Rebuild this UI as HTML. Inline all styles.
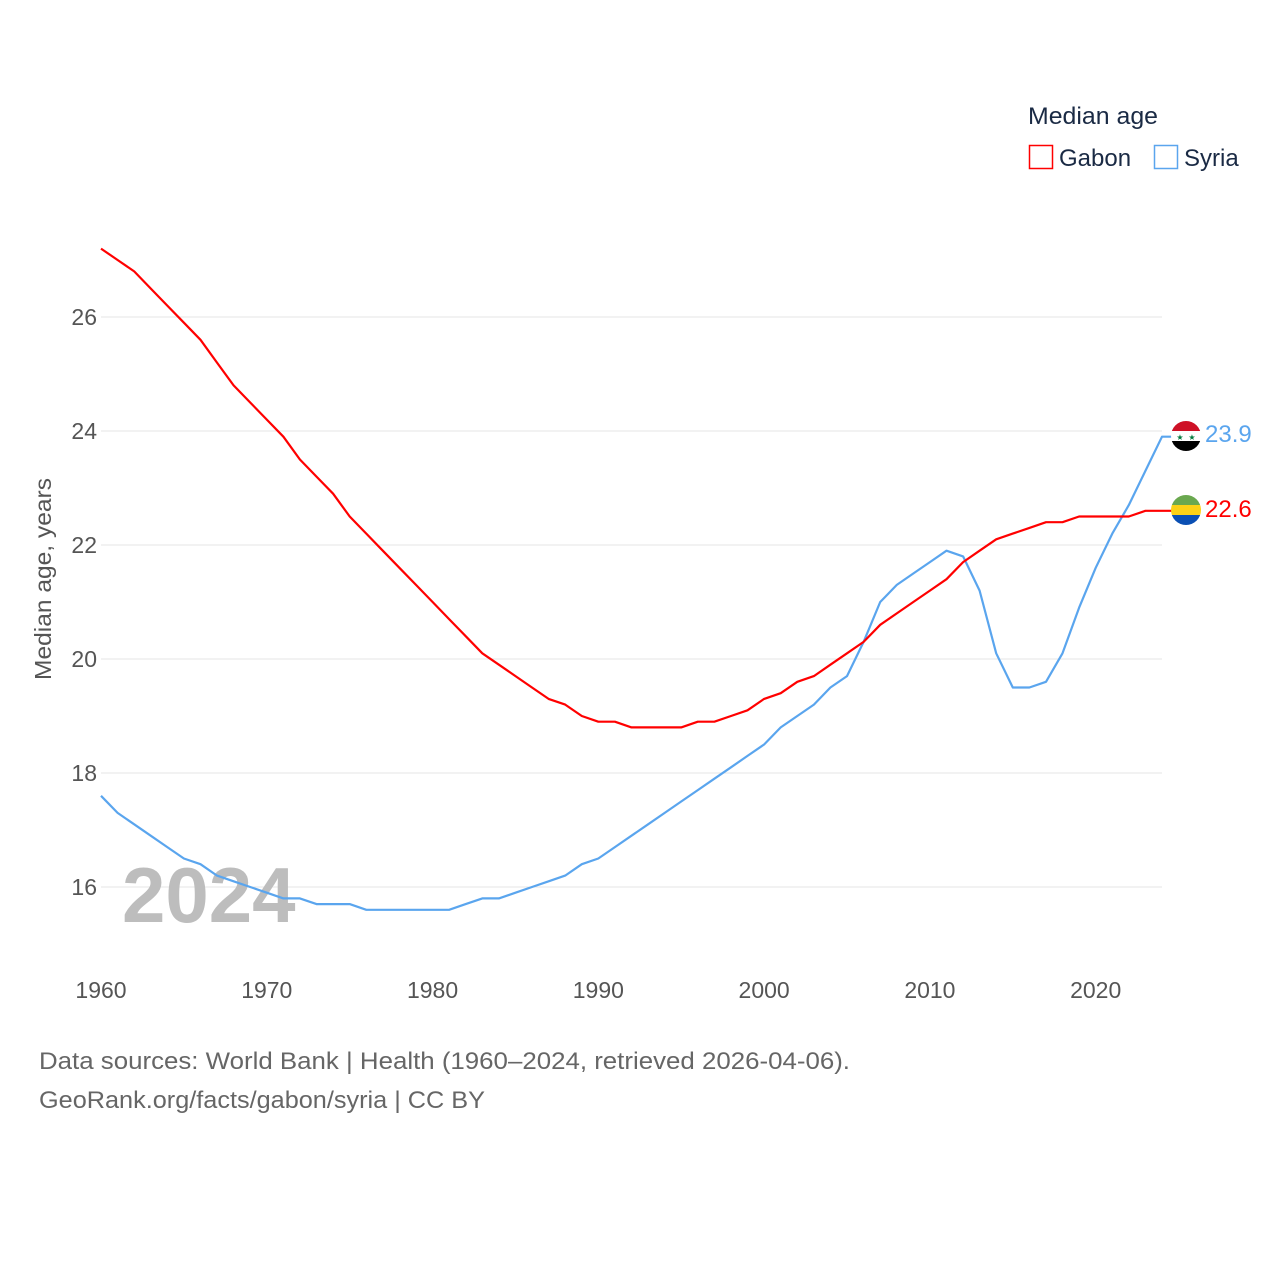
<!DOCTYPE html>
<html><head><meta charset="utf-8">
<style>
body{margin:0;background:#fff;font-family:"Liberation Sans",sans-serif;}
svg text{font-family:"Liberation Sans",sans-serif;}
</style></head>
<body>
<svg id="chart" width="1280" height="1280" viewBox="0 0 1280 1280" xmlns="http://www.w3.org/2000/svg">
<rect width="1280" height="1280" fill="#fff"/>
<g id="grid"></g>
<g id="yticks"></g>
<g id="xticks"></g>
<text x="122" y="922" font-size="78" font-weight="bold" fill="#bdbdbd">2024</text>
<g id="lines"></g>
<text transform="translate(51,579) rotate(-90)" text-anchor="middle" font-size="23" fill="#555" textLength="202" lengthAdjust="spacingAndGlyphs">Median age, years</text>
<text x="1028" y="124" font-size="24" fill="#1a2a44" textLength="130" lengthAdjust="spacingAndGlyphs">Median age</text>
<rect x="1029.5" y="145.5" width="23" height="23" fill="none" stroke="#f00" stroke-width="1.5"/>
<text x="1059" y="166" font-size="24" fill="#1a2a44">Gabon</text>
<rect x="1154.5" y="145.5" width="23" height="23" fill="none" stroke="#5aa5ee" stroke-width="1.5"/>
<text x="1184" y="166" font-size="24" fill="#1a2a44">Syria</text>
<defs>
<clipPath id="c1"><circle cx="1186" cy="436" r="15"/></clipPath>
<clipPath id="c2"><circle cx="1186" cy="510" r="15"/></clipPath>
</defs>
<g clip-path="url(#c1)">
<rect x="1171" y="421" width="30" height="10" fill="#ce1126"/>
<rect x="1171" y="431" width="30" height="10" fill="#fff"/>
<rect x="1171" y="441" width="30" height="10" fill="#000"/>
<text x="1180" y="440" font-size="8" fill="#007a3d" text-anchor="middle">★</text>
<text x="1192" y="440" font-size="8" fill="#007a3d" text-anchor="middle">★</text>
</g>
<g clip-path="url(#c2)">
<rect x="1171" y="495" width="30" height="10" fill="#6aa84f"/>
<rect x="1171" y="505" width="30" height="10" fill="#fcd116"/>
<rect x="1171" y="515" width="30" height="10" fill="#0a4fb3"/>
</g>
<text x="1205" y="442" font-size="24" fill="#5aa5ee">23.9</text>
<text x="1205" y="517" font-size="24" fill="#f00">22.6</text>
<text x="39" y="1069" font-size="24" fill="#666" textLength="811" lengthAdjust="spacingAndGlyphs">Data sources: World Bank | Health (1960–2024, retrieved 2026-04-06).</text>
<text x="39" y="1108" font-size="24" fill="#666" textLength="446" lengthAdjust="spacingAndGlyphs">GeoRank.org/facts/gabon/syria | CC BY</text>
</svg>
<script>
const years = Array.from({length:65},(_,i)=>1960+i);
const gabon = [27.2,27.0,26.8,26.5,26.2,25.9,25.6,25.2,24.8,24.5,24.2,23.9,23.5,23.2,22.9,22.5,22.2,21.9,21.6,21.3,21.0,20.7,20.4,20.1,19.9,19.7,19.5,19.3,19.2,19.0,18.9,18.9,18.8,18.8,18.8,18.8,18.9,18.9,19.0,19.1,19.3,19.4,19.6,19.7,19.9,20.1,20.3,20.6,20.8,21.0,21.2,21.4,21.7,21.9,22.1,22.2,22.3,22.4,22.4,22.5,22.5,22.5,22.5,22.6,22.6];
const syria = [17.6,17.3,17.1,16.9,16.7,16.5,16.4,16.2,16.1,16.0,15.9,15.8,15.8,15.7,15.7,15.7,15.6,15.6,15.6,15.6,15.6,15.6,15.7,15.8,15.8,15.9,16.0,16.1,16.2,16.4,16.5,16.7,16.9,17.1,17.3,17.5,17.7,17.9,18.1,18.3,18.5,18.8,19.0,19.2,19.5,19.7,20.3,21.0,21.3,21.5,21.7,21.9,21.8,21.2,20.1,19.5,19.5,19.6,20.1,20.9,21.6,22.2,22.7,23.3,23.9];
const yTicks = [16,18,20,22,24,26];
const xTicks = [1960,1970,1980,1990,2000,2010,2020];
const NS="http://www.w3.org/2000/svg";
const X = y => 101 + (y-1960)*(1162-101)/64;
const Y = v => 887 - (v-16)*57;
function mk(tag, attrs, parent){const e=document.createElementNS(NS,tag);for(const k in attrs)e.setAttribute(k,attrs[k]);document.getElementById(parent).appendChild(e);return e;}
yTicks.forEach(t=>{
  const l=mk('line',{x1:101,x2:1162,y1:Y(t),y2:Y(t),stroke:'#e6e6e6','stroke-width':1},'grid');
  
  
  const tx=mk('text',{x:97,y:Y(t)+8,'text-anchor':'end','font-size':23,fill:'#555'},'yticks');
  tx.textContent=t;
  
  
});
xTicks.forEach(t=>{
  const tx=mk('text',{x:X(t),y:998,'text-anchor':'middle','font-size':23,fill:'#555'},'xticks');
  tx.textContent=t;
  
  
});
function line(vals,color,name){
  let d=vals.map((v,i)=>(i?'L':'M')+X(years[i]).toFixed(1)+' '+Y(v).toFixed(1)).join(' ');
  d+=' L1172 '+Y(vals[vals.length-1]).toFixed(1);
  const p=mk('path',{d:d,fill:'none',stroke:color,'stroke-width':2.2,'stroke-linejoin':'round'},'lines');
  
  
}
line(syria,'#5aa5ee','syria-line');
line(gabon,'#f00','gabon-line');
</script>
</body></html>
